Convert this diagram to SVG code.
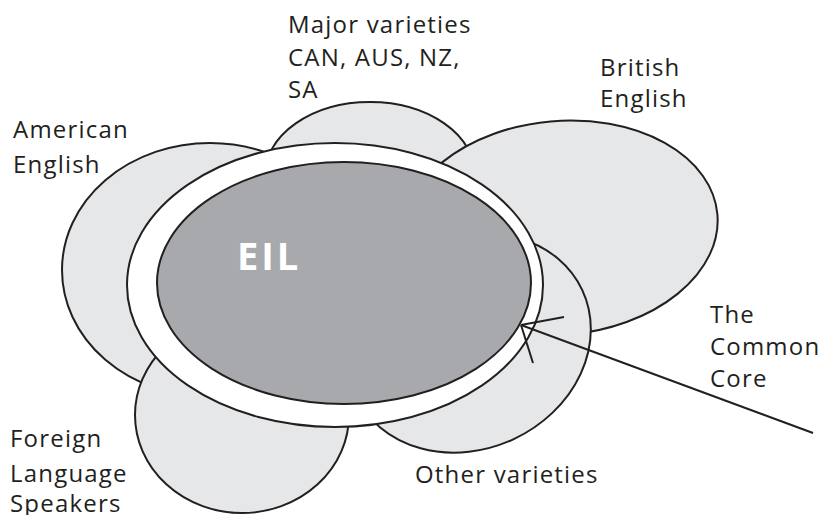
<svg xmlns="http://www.w3.org/2000/svg" width="821" height="515" viewBox="0 0 821 515">
<style>
.e{fill:#e6e7e8;stroke:#231f20;stroke-width:2}
.t{font-family:"Open Sans","Noto Sans",sans-serif;font-size:24px;letter-spacing:1.2px;fill:#231f20}
</style>
<rect width="821" height="515" fill="#fff"/>
<g id="major"><ellipse class="e" cx="370" cy="175" rx="105" ry="73"/></g>
<g id="american"><ellipse class="e" cx="210" cy="270" rx="148" ry="127"/></g>
<g id="british"><ellipse class="e" cx="560" cy="228" rx="158" ry="107" transform="rotate(-5 560 228)"/></g>
<g id="other"><ellipse class="e" cx="469" cy="343" rx="125" ry="106" transform="rotate(-25 469 343)"/></g>
<g id="foreign"><ellipse class="e" cx="242" cy="415" rx="107" ry="98"/></g>
<g id="commoncore"><ellipse cx="335" cy="285" rx="208" ry="142" fill="#fff" stroke="#231f20" stroke-width="2"/></g>
<g id="eil"><ellipse cx="344" cy="283" rx="187" ry="121" fill="#a7a9ac" stroke="#231f20" stroke-width="2"/>
<text x="237" y="270" font-family="Open Sans,Noto Sans,sans-serif" font-weight="bold" font-size="38" letter-spacing="3" fill="#fff">EIL</text></g>
<g id="connectors" stroke="#231f20" stroke-width="2" fill="none">
<line x1="813" y1="433" x2="521" y2="325"/>
<line x1="521" y1="325" x2="564" y2="317"/>
<line x1="521" y1="325" x2="533" y2="363"/>
</g>
<g id="labels">
<text class="t" x="288" y="33">Major varieties</text>
<text class="t" x="288" y="66">CAN, AUS, NZ,</text>
<text class="t" x="288" y="98">SA</text>
<text class="t" x="13" y="138">American</text>
<text class="t" x="13" y="173">English</text>
<text class="t" x="600" y="76">British</text>
<text class="t" x="600" y="107">English</text>
<text class="t" x="10" y="447">Foreign</text>
<text class="t" x="10" y="482">Language</text>
<text class="t" x="10" y="512">Speakers</text>
<text class="t" x="710" y="323">The</text>
<text class="t" x="710" y="355">Common</text>
<text class="t" x="710" y="387">Core</text>
<text class="t" x="415" y="483">Other varieties</text>
</g>
</svg>
